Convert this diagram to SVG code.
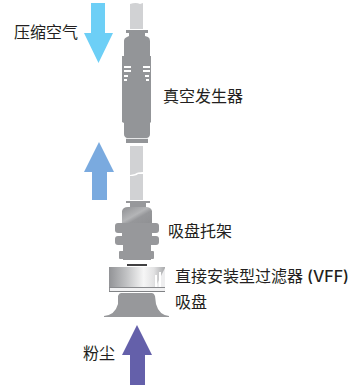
<svg xmlns="http://www.w3.org/2000/svg" width="354" height="388" viewBox="0 0 354 388">
<defs>
<linearGradient id="filter" x1="0" x2="1" y1="0" y2="0">
<stop offset="0" stop-color="#929396"/><stop offset="0.3" stop-color="#bfc0c2"/><stop offset="0.62" stop-color="#f6f6f6"/><stop offset="0.8" stop-color="#e2e2e3"/><stop offset="1" stop-color="#a8a9ab"/>
</linearGradient>
<linearGradient id="bracket" x1="0" x2="1" y1="0" y2="1">
<stop offset="0" stop-color="#8f9093"/><stop offset="0.45" stop-color="#b4b5b7"/><stop offset="0.6" stop-color="#96979a"/><stop offset="1" stop-color="#8f9093"/>
</linearGradient>
</defs>
<style>
text{font-family:"Noto Sans CJK SC","Liberation Sans",sans-serif;font-size:16px;fill:#231f20}
.tube{fill:#d1d2d4}
.body{fill:#939598}
.slot{fill:#fff}
.metal{fill:#97989b}
</style>
<g id="arrow-compressed-air"><path d="M91 3H105V33H113L98.500 63L84 33H91Z" fill="#6dcff6"/></g>
<g id="arrow-return"><path d="M99 142L114 172H107V200H92V172H84Z" fill="#7aaadf"/></g>
<g id="arrow-dust"><path d="M137 325L152 355H145V385H130V355H122Z" fill="#6460aa"/></g>
<g id="tube">
<path class="tube" d="M130 4Q136 2 140 4L143 3V29H130Z"/>
<path class="tube" d="M130 146H143V172Q137 172 135 174L130 175Z"/>
<path class="tube" d="M130 176Q136 176 138 174L143 174V200H130Z"/>
</g>
<g id="vacuum-generator">
<rect class="body" x="126" y="30" width="22" height="3"/>
<rect class="body" x="126" y="139" width="22" height="4"/>
<path class="body" d="M129 33H145V36L148 37Q150 38 150 41V56H151V122L150 123V134Q150 137 147 138H127Q124 137 124 134V123L122 122V56H124V41Q124 38 127 37L129 36Z"/>
<rect x="126" y="138" width="22" height="1" fill="#e6e7e8"/>
<g class="slot">
<rect class="slot" x="124" y="66" width="7" height="2"/><rect class="slot" x="124" y="70" width="7" height="2"/><rect class="slot" x="124" y="75" width="4" height="2"/><rect class="slot" x="124" y="79" width="3" height="2"/>
<rect class="slot" x="143" y="66" width="7" height="2"/><rect class="slot" x="143" y="70" width="7" height="2"/><rect class="slot" x="145" y="75" width="4" height="2"/><rect class="slot" x="146" y="79" width="3" height="2"/>
</g>
</g>
<g id="suction-bracket">
<rect class="metal" x="126" y="201" width="24" height="2"/>
<rect class="metal" x="130" y="203" width="16" height="4"/>
<path d="M122 211Q123 207 128 207H146Q151 207 152 211V224H122Z" fill="url(#bracket)"/>
<rect class="metal" x="115" y="223" width="44" height="10" rx="3"/>
<rect class="metal" x="122" y="232" width="30" height="5"/>
<rect class="metal" x="115" y="236" width="44" height="9" rx="3"/>
<rect class="metal" x="123" y="244" width="28" height="9"/>
<rect class="metal" x="119" y="251" width="35" height="8" rx="1"/>
<rect class="metal" x="123" y="258" width="28" height="2"/>
<rect x="127" y="264" width="20" height="2" fill="#414042"/>
</g>
<g id="vff-filter">
<path d="M109 267H165V292H109Z" fill="url(#filter)"/>
<path d="M153 292L165 268V292Z" fill="#eeeeef"/>
<rect x="155" y="275" width="2" height="15" fill="#fff"/><rect x="159" y="272" width="2" height="18" fill="#fff"/>
<rect x="109" y="287" width="56" height="1" fill="#8a8b8e"/>
<rect x="110" y="288" width="54" height="3" fill="#f1f1f2"/>
<rect x="109" y="291" width="56" height="1" fill="#808285"/>
</g>
<g id="suction-pad">
<path class="metal" d="M121 293Q119 293 118 296L118 304Q115 315 104 316L104 317H169L169 316Q159 315 156 304L155 296Q154 293 152 293Z"/>
</g>
<g id="labels">
<text x="14" y="38">压缩空气</text>
<text x="163" y="102">真空发生器</text>
<text x="168" y="237">吸盘托架</text>
<text x="175" y="282">直接安装型过滤器 <tspan x="307" font-family="Inter" font-weight="500" font-size="16">(VFF)</tspan></text>
<text x="175" y="308">吸盘</text>
<text x="83" y="359">粉尘</text>
</g>
</svg>
